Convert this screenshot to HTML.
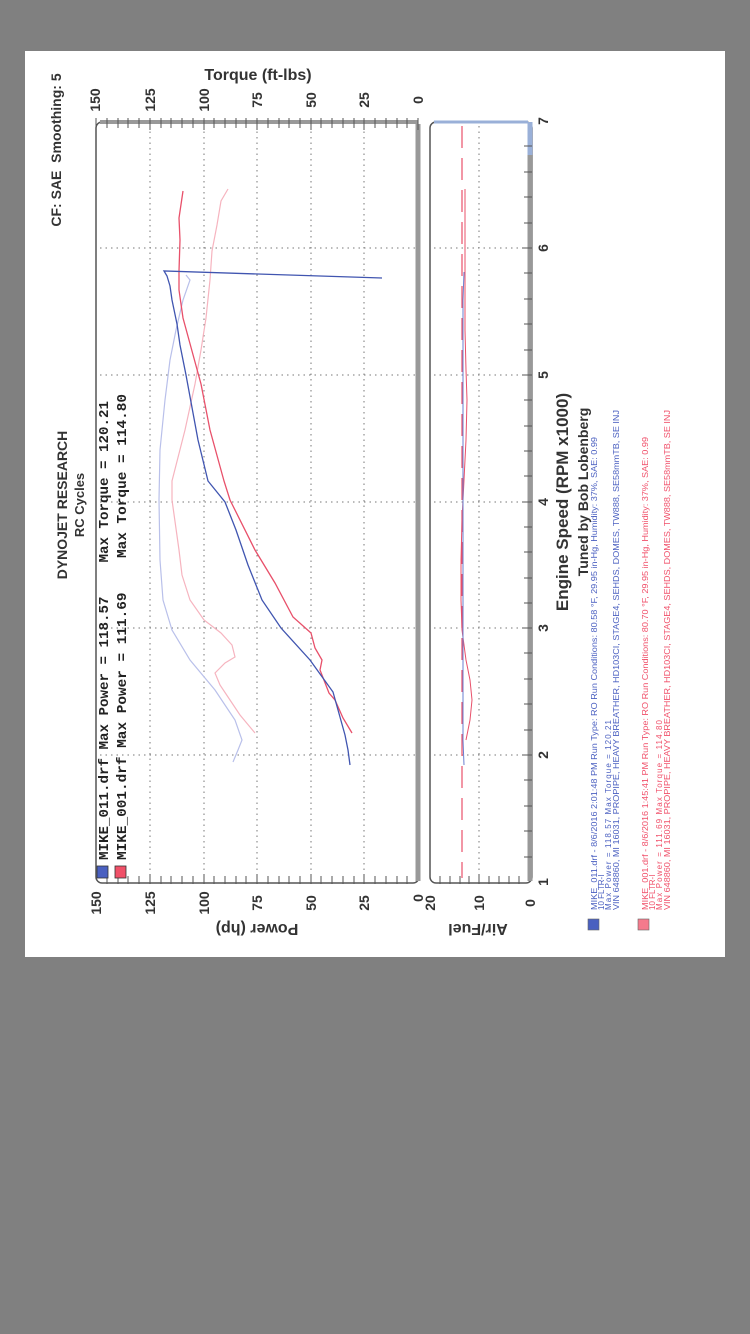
<!DOCTYPE html>
<html><head><meta charset="utf-8"><style>
html,body{margin:0;padding:0;background:#808080;}
svg{display:block}
</style></head><body>
<svg width="750" height="1334" xmlns="http://www.w3.org/2000/svg" font-family="Liberation Sans, sans-serif">
<rect x="0" y="0" width="750" height="1334" fill="#808080"/>
<rect x="25" y="51" width="700" height="906" fill="#ffffff"/>

<g stroke="#777" stroke-width="1" stroke-dasharray="1.5,4">
<line x1="150" y1="126" x2="150" y2="878"/>
<line x1="204" y1="126" x2="204" y2="878"/>
<line x1="257" y1="126" x2="257" y2="878"/>
<line x1="311" y1="126" x2="311" y2="878"/>
<line x1="364" y1="126" x2="364" y2="878"/>
<line x1="100" y1="755" x2="416" y2="755"/>
<line x1="100" y1="628" x2="416" y2="628"/>
<line x1="100" y1="502" x2="416" y2="502"/>
<line x1="100" y1="375" x2="416" y2="375"/>
<line x1="100" y1="248" x2="416" y2="248"/>
<line x1="434" y1="755" x2="526" y2="755"/>
<line x1="434" y1="628" x2="526" y2="628"/>
<line x1="434" y1="502" x2="526" y2="502"/>
<line x1="434" y1="375" x2="526" y2="375"/>
<line x1="434" y1="248" x2="526" y2="248"/>
<line x1="479" y1="126" x2="479" y2="878"/>
</g>

<rect x="96" y="122" width="323" height="761" rx="6" fill="none" stroke="#555" stroke-width="1.5"/>
<line x1="418" y1="124" x2="418" y2="881" stroke="#999" stroke-width="5"/>
<line x1="100" y1="122" x2="418" y2="122" stroke="#999" stroke-width="4"/>
<g stroke="#555" stroke-width="1">
<path d="M418,118V130 M407,118V128 M397,118V128 M386,118V128 M375,118V128 M364,118V130 M354,118V128 M343,118V128 M332,118V128 M321,118V128 M311,118V130 M300,118V128 M289,118V128 M279,118V128 M268,118V128 M257,118V130 M246,118V128 M236,118V128 M225,118V128 M214,118V128 M204,118V130 M193,118V128 M182,118V128 M171,118V128 M161,118V128 M150,118V130 M139,118V128 M128,118V128 M118,118V128 M107,118V128 M96,118V130"/>
<path d="M407,876V884 M397,876V884 M386,876V884 M375,876V884 M364,874V884 M354,876V884 M343,876V884 M332,876V884 M321,876V884 M311,874V884 M300,876V884 M289,876V884 M279,876V884 M268,876V884 M257,874V884 M246,876V884 M236,876V884 M225,876V884 M214,876V884 M204,874V884 M193,876V884 M182,876V884 M171,876V884 M161,876V884 M150,874V884 M139,876V884 M128,876V884 M118,876V884 M107,876V884"/>
</g>

<rect x="430" y="122" width="102" height="761" rx="6" fill="none" stroke="#555" stroke-width="1.5"/>
<line x1="530" y1="124" x2="530" y2="881" stroke="#999" stroke-width="5"/>
<line x1="530" y1="122" x2="530" y2="155" stroke="#9ab0d8" stroke-width="5"/>
<line x1="434" y1="122" x2="528" y2="122" stroke="#9ab0d8" stroke-width="3"/>
<g stroke="#555" stroke-width="1">
<path d="M524,857H532 M524,831H532 M524,806H532 M524,780H532 M522,755H532 M524,730H532 M524,704H532 M524,679H532 M524,653H532 M522,628H532 M524,603H532 M524,578H532 M524,552H532 M524,527H532 M522,502H532 M524,476H532 M524,451H532 M524,426H532 M524,400H532 M522,375H532 M524,350H532 M524,324H532 M524,299H532 M524,273H532 M522,248H532 M524,223H532 M524,197H532 M524,172H532 M524,146H532"/>
<path d="M440,876V884 M450,876V884 M460,876V884 M469,876V884 M479,874V884 M489,876V884 M499,876V884 M509,876V884 M519,876V884"/>
</g>
<line x1="462" y1="126" x2="462" y2="878" stroke="#e8506a" stroke-width="1.2" stroke-dasharray="22,10"/>
<polyline fill="none" stroke="#e8506a" stroke-width="1" points="466,740 470,720 472,700 470,680 466,660 462,630 461,600 461,560 462,520 464,480 466,440 467,400 466,370 465,330 465,280 465,189"/>
<polyline fill="none" stroke="#6a7fd0" stroke-width="1" points="464,765 463,740 463,700 463,650 463,600 463,550 463,500 463,450 463,400 463,350 463,300 464,272"/>

<polyline fill="none" stroke="#b9c0ea" stroke-width="1.2" points="233,762 238,750 242,740 235,720 215,690 190,660 172,630 163,600 160,560 159,500 160,450 165,400 170,360 176,330 183,300 190,280 186,275"/>
<polyline fill="none" stroke="#f6b4bf" stroke-width="1.2" points="255,733 240,715 230,700 220,685 215,673 225,663 235,657 232,645 221,633 204,620 190,600 182,575 179,550 172,500 172,481 185,430 195,384 201,350 206,318 210,280 212,251 217,225 221,201 228,189"/>
<polyline fill="none" stroke="#e8506a" stroke-width="1.3" points="352,733 343,718 335,700 329,693 320,670 322,660 315,648 311,633 293,617 275,583 255,550 230,500 224,481 210,430 201,384 192,351 183,318 179,290 179,271 180,240 179,218 183,191"/>
<polyline fill="none" stroke="#4055b0" stroke-width="1.3" points="350,765 348,750 345,735 333,692 310,660 281,628 262,600 248,565 236,530 225,502 208,481 198,440 186,375 180,345 177,324 172,300 170,286 167,276 164,271 382,278"/>

<rect x="97" y="866" width="11" height="12" fill="#4a60c0" stroke="#333" stroke-width="0.8"/>
<rect x="115" y="866" width="11" height="12" fill="#f05068" stroke="#333" stroke-width="0.8"/>
<g font-family="Liberation Mono, monospace" font-weight="bold" font-size="14" fill="#222">
<text transform="translate(108,860) rotate(-90)" textLength="459" lengthAdjust="spacingAndGlyphs" xml:space="preserve">MIKE_011.drf Max Power = 118.57    Max Torque = 120.21</text>
<text transform="translate(126,860) rotate(-90)" textLength="466" lengthAdjust="spacingAndGlyphs" xml:space="preserve">MIKE_001.drf Max Power = 111.69    Max Torque = 114.80</text>
</g>

<g font-weight="bold" fill="#333" text-anchor="middle">
<text transform="translate(67,505) rotate(-90)" font-size="14">DYNOJET RESEARCH</text>
<text transform="translate(84,505) rotate(-90)" font-size="13">RC Cycles</text>
<text transform="translate(61,150) rotate(-90)" font-size="14" xml:space="preserve">CF: SAE  Smoothing: 5</text>
<text x="258" y="80" font-size="16">Torque (ft-lbs)</text>
<text transform="translate(257,924) rotate(180)" font-size="16">Power (hp)</text>
<text transform="translate(478,924) rotate(180)" font-size="16">Air/Fuel</text>
<text transform="translate(568,502) rotate(-90)" font-size="17">Engine Speed (RPM x1000)</text>
<text transform="translate(588,492) rotate(-90)" font-size="14">Tuned by Bob Lobenberg</text>
</g>

<g font-weight="bold" font-size="14" fill="#333" text-anchor="middle">
<text transform="translate(101,903) rotate(-90)">150</text>
<text transform="translate(155,903) rotate(-90)">125</text>
<text transform="translate(209,903) rotate(-90)">100</text>
<text transform="translate(262,903) rotate(-90)">75</text>
<text transform="translate(316,903) rotate(-90)">50</text>
<text transform="translate(369,903) rotate(-90)">25</text>
<text transform="translate(423,898) rotate(-90)">0</text>
<text transform="translate(435,903) rotate(-90)">20</text>
<text transform="translate(484,903) rotate(-90)">10</text>
<text transform="translate(535,903) rotate(-90)">0</text>
<text transform="translate(100,100) rotate(-90)">150</text>
<text transform="translate(155,100) rotate(-90)">125</text>
<text transform="translate(209,100) rotate(-90)">100</text>
<text transform="translate(262,100) rotate(-90)">75</text>
<text transform="translate(316,100) rotate(-90)">50</text>
<text transform="translate(369,100) rotate(-90)">25</text>
<text transform="translate(423,100) rotate(-90)">0</text>
<text transform="translate(548,882) rotate(-90)">1</text>
<text transform="translate(548,755) rotate(-90)">2</text>
<text transform="translate(548,628) rotate(-90)">3</text>
<text transform="translate(548,502) rotate(-90)">4</text>
<text transform="translate(548,375) rotate(-90)">5</text>
<text transform="translate(548,248) rotate(-90)">6</text>
<text transform="translate(548,121) rotate(-90)">7</text>
</g>

<rect x="588" y="919" width="11" height="11" fill="#4a60c0" stroke="#666" stroke-width="0.6"/>
<rect x="638" y="919" width="11" height="11" fill="#f47a8c" stroke="#666" stroke-width="0.6"/>
<g font-size="8" fill="#4a5fc0">
<text transform="translate(597,910) rotate(-90)" textLength="473" lengthAdjust="spacingAndGlyphs">MIKE_011.drf - 8/6/2016 2:01:48 PM  Run Type: RO  Run Conditions: 80.58 °F, 29.95 in-Hg, Humidity: 37%, SAE: 0.99</text>
<text transform="translate(604,910) rotate(-90)">10 FLTR-I</text>
<text transform="translate(611,910) rotate(-90)" textLength="190" lengthAdjust="spacing">Max Power = 118.57  Max Torque = 120.21</text>
<text transform="translate(619,910) rotate(-90)" textLength="500" lengthAdjust="spacingAndGlyphs">VIN 648860, MI 16031, PROPIPE, HEAVY BREATHER, HD103CI, STAGE4, SEHDS, DOMES, TW888, SE58mmTB, SE INJ</text>
</g>
<g font-size="8" fill="#f0506a">
<text transform="translate(648,910) rotate(-90)" textLength="473" lengthAdjust="spacingAndGlyphs">MIKE_001.drf - 8/6/2016 1:45:41 PM  Run Type: RO  Run Conditions: 80.70 °F, 29.95 in-Hg, Humidity: 37%, SAE: 0.99</text>
<text transform="translate(655,910) rotate(-90)">10 FLTR-I</text>
<text transform="translate(662,910) rotate(-90)" textLength="190" lengthAdjust="spacing">Max Power = 111.69  Max Torque = 114.80</text>
<text transform="translate(670,910) rotate(-90)" textLength="500" lengthAdjust="spacingAndGlyphs">VIN 648860, MI 16031, PROPIPE, HEAVY BREATHER, HD103CI, STAGE4, SEHDS, DOMES, TW888, SE58mmTB, SE INJ</text>
</g>
</svg>
</body></html>
